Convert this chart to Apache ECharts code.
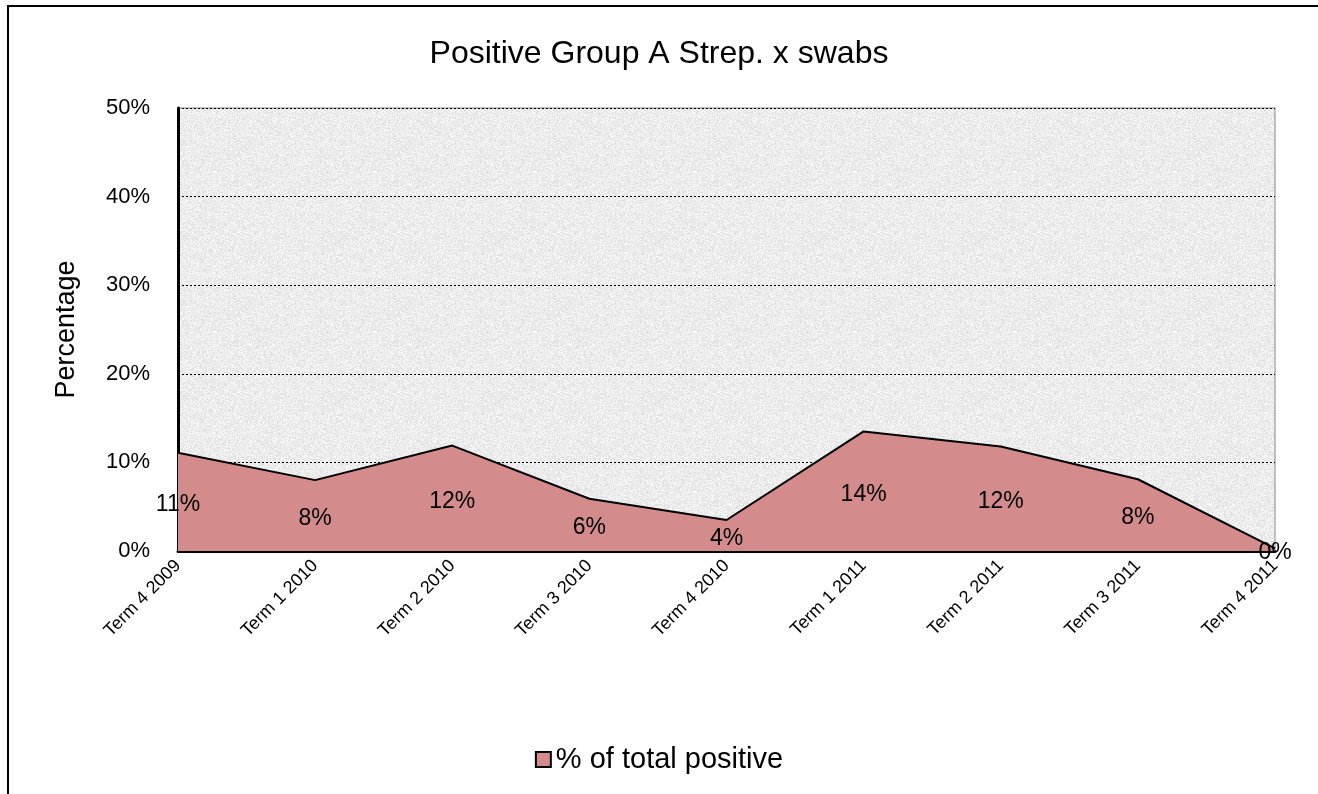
<!DOCTYPE html>
<html>
<head>
<meta charset="utf-8">
<title>Positive Group A Strep. x swabs</title>
<script src="https://cdn.jsdelivr.net/npm/echarts@6/dist/echarts.min.js"></script>
<style>
    html, body { margin: 0; padding: 0; background: #fff; }
    #chart { width: 1318px; height: 794px; }
    #frame {
        position: absolute; left: 7px; top: 5px; width: 1400px; height: 900px;
        border-left: 2px solid #000; border-top: 2px solid #000; pointer-events: none;
    }
</style>
</head>
<body>
<div id="chart"></div>
<div id="frame"></div>
<script>
var terms = ['Term 4 2009', 'Term 1 2010', 'Term 2 2010', 'Term 3 2010', 'Term 4 2010',
             'Term 1 2011', 'Term 2 2011', 'Term 3 2011', 'Term 4 2011'];
var positive = [11.1, 8.0, 11.9, 5.9, 3.5, 13.5, 11.8, 8.1, 0.3];
var yTicks = [0, 10, 20, 30, 40, 50];

// grey speckled plot background, like the office texture
function makeTexture() {
    var c = document.createElement('canvas');
    c.width = 160; c.height = 160;
    var ctx = c.getContext('2d');
    var img = ctx.createImageData(160, 160);
    var seed = 7;
    for (var i = 0; i < 160 * 160; i++) {
        seed = (seed * 1103515245 + 12345) & 0x7fffffff;
        var g = 222 + (seed % 30);
        img.data[i * 4] = g;
        img.data[i * 4 + 1] = g;
        img.data[i * 4 + 2] = g;
        img.data[i * 4 + 3] = 255;
    }
    ctx.putImageData(img, 0, 0);
    return c;
}

// labels sit half way up the area
var labelPos = positive.map(function(v) { return v / 2; });

var myChart = echarts.init(document.getElementById('chart'));
var option = {
    animation: false,
    backgroundColor: '#fff',
    textStyle: { fontFamily: 'Liberation Sans, Arial, sans-serif', color: '#000' },
    title: {
        text: 'Positive Group A Strep. x swabs',
        left: 'center',
        top: 33,
        textStyle: { fontSize: 32, fontWeight: 'normal', color: '#000', fontFamily: 'Liberation Sans' }
    },
    legend: {
        data: ['% of total positive'],
        top: 740,
        left: 'center',
        icon: 'rect',
        itemWidth: 15,
        itemHeight: 15,
        itemGap: 6,
        textStyle: { fontSize: 29, color: '#000', fontFamily: 'Liberation Sans' }
    },
    grid: {
        left: 178,
        right: 43,
        top: 108,
        bottom: 243,
        show: true,
        backgroundColor: { image: makeTexture(), repeat: 'repeat' },
        borderColor: '#888',
        borderWidth: 1
    },
    xAxis: {
        type: 'category',
        data: terms,
        boundaryGap: false,
        axisLine: { lineStyle: { color: '#000', width: 3 } },
        axisTick: { show: false },
        axisLabel: { rotate: 45, fontSize: 18, color: '#000', margin: 12, interval: 0 }
    },
    yAxis: {
        type: 'value',
        min: yTicks[0],
        max: yTicks[yTicks.length - 1],
        interval: 10,
        name: 'Percentage',
        nameLocation: 'middle',
        nameGap: 98,
        nameTextStyle: { fontSize: 27, color: '#000' },
        axisLine: { show: true, lineStyle: { color: '#000', width: 3 } },
        axisTick: { show: false },
        axisLabel: { formatter: '{value}%', fontSize: 22, color: '#000', margin: 28 },
        splitLine: { lineStyle: { color: '#000', type: [2, 2], width: 1 } }
    },
    series: [{
        name: '% of total positive',
        type: 'line',
        data: positive,
        symbol: 'none',
        lineStyle: { color: '#000', width: 2 },
        itemStyle: { color: '#d38b8b', borderColor: '#000', borderWidth: 1.5 },
        areaStyle: { color: '#d38b8b', opacity: 1 },
        z: 2
    }, {
        name: 'labels',
        type: 'line',
        data: labelPos,
        symbol: 'circle',
        symbolSize: 1,
        showSymbol: true,
        silent: true,
        lineStyle: { opacity: 0 },
        itemStyle: { color: 'rgba(0,0,0,0)', borderWidth: 0 },
        label: {
            show: true,
            position: 'inside',
            offset: [0, 3],
            fontSize: 23,
            color: '#000',
            formatter: function(p) { return Math.round(positive[p.dataIndex]) + '%'; }
        },
        z: 5
    }]
};
myChart.setOption(option);
</script>
</body>
</html>
